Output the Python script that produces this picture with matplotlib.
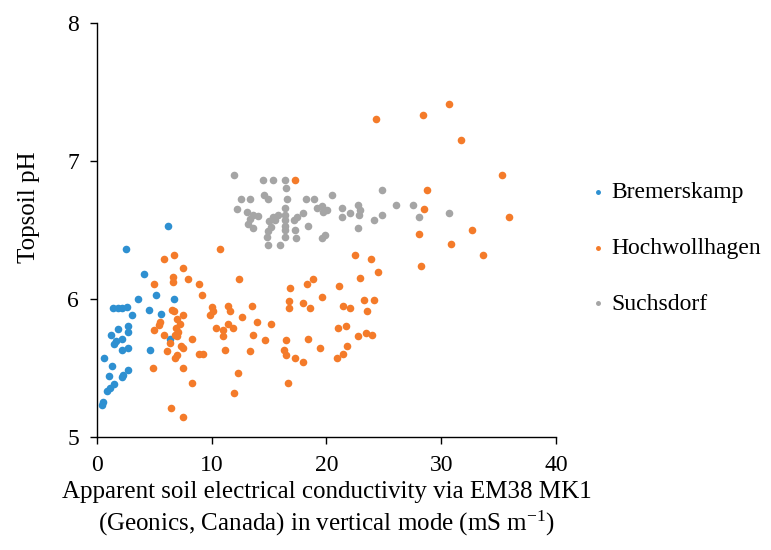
import matplotlib
matplotlib.use("Agg")
import matplotlib.pyplot as plt

# Bremerskamp
bx = [6.16, 2.53, 4.12, 5.14, 6.74, 3.60, 1.42, 1.86, 2.15, 2.59, 3.02, 4.53, 5.55,
      1.86, 2.73, 2.73, 1.22, 2.15, 1.63, 1.51, 2.73, 2.20, 0.58, 4.62, 6.39, 1.33,
      2.68, 2.29, 2.15, 1.05, 1.51, 1.11, 0.85, 0.55, 0.41]
by = [6.53, 6.36, 6.18, 6.03, 6.00, 6.00, 5.93, 5.93, 5.93, 5.94, 5.88, 5.92, 5.89,
      5.78, 5.80, 5.76, 5.74, 5.71, 5.69, 5.67, 5.64, 5.63, 5.57, 5.63, 5.71, 5.51,
      5.48, 5.45, 5.43, 5.44, 5.38, 5.35, 5.33, 5.25, 5.23]

# Hochwollhagen
hx = [10.72, 5.86, 6.74, 7.52, 4.97, 6.60, 6.60, 7.96, 8.89, 9.18, 12.40, 6.56, 6.74,
      7.52, 5.49, 5.43, 4.97, 6.95, 7.23, 6.88, 7.08, 6.80, 5.84, 7.00, 6.36, 8.25,
      7.29, 7.47, 6.13, 7.00, 6.80, 8.92, 9.21, 4.85, 7.52, 8.25, 6.42, 7.47,
      10.00, 10.08, 9.85, 11.44, 11.59, 10.37, 11.01, 11.44, 11.88, 10.95, 12.61,
      13.48, 13.97, 13.62, 11.15, 13.33, 12.31, 11.94,
      28.09, 28.24, 22.51, 23.85, 24.51, 22.92, 21.12, 16.82, 18.33, 18.80, 19.58,
      16.76, 16.76, 17.98, 18.56, 21.41, 22.05, 23.27, 24.14, 23.50, 15.16, 20.98,
      21.70, 14.64, 16.47, 18.36, 22.72, 23.44, 23.94, 16.30, 16.47, 17.25, 17.93,
      19.43, 21.81, 20.94, 21.41, 16.62,
      30.70, 28.38, 31.72, 35.27, 28.73, 28.52, 35.88, 32.71, 30.88, 33.66, 24.31,
      17.25]
hy = [6.36, 6.29, 6.32, 6.22, 6.11, 6.16, 6.12, 6.14, 6.11, 6.03, 6.14, 5.92, 5.91,
      5.88, 5.83, 5.81, 5.77, 5.85, 5.82, 5.79, 5.76, 5.74, 5.74, 5.73, 5.68, 5.71,
      5.66, 5.64, 5.62, 5.59, 5.57, 5.60, 5.60, 5.50, 5.50, 5.39, 5.21, 5.14,
      5.94, 5.91, 5.88, 5.95, 5.91, 5.79, 5.77, 5.82, 5.79, 5.73, 5.87,
      5.95, 5.83, 5.74, 5.63, 5.62, 5.46, 5.32,
      6.47, 6.24, 6.32, 6.29, 6.19, 6.15, 6.09, 6.08, 6.11, 6.14, 6.01,
      5.98, 5.93, 5.97, 5.93, 5.95, 5.93, 5.99, 5.99, 5.91, 5.82, 5.79,
      5.80, 5.70, 5.70, 5.71, 5.73, 5.75, 5.74, 5.63, 5.59, 5.57, 5.54,
      5.64, 5.66, 5.57, 5.60, 5.39,
      7.41, 7.33, 7.15, 6.90, 6.79, 6.65, 6.59, 6.50, 6.40, 6.32, 7.30,
      6.86]

# Suchsdorf
sx = [11.97, 14.49, 15.36, 16.38, 16.44, 12.55, 13.30, 14.58, 14.88, 16.53, 18.19,
      18.94, 20.51, 12.17, 13.05, 13.33, 13.62, 14.06, 13.19, 13.62, 14.99, 15.36,
      15.80, 15.51, 15.16, 14.93, 14.79, 16.38, 16.38, 16.38, 16.38, 16.38, 16.38,
      14.93, 15.95, 17.19, 17.40, 17.98, 17.25, 17.32, 18.36, 19.15, 19.58, 19.72,
      20.02, 19.87, 19.63, 21.32, 21.32, 22.05, 22.77, 22.92, 22.86, 22.77, 24.17,
      24.81, 24.81, 26.06, 27.56, 28.09, 30.70]
sy = [6.90, 6.86, 6.86, 6.86, 6.80, 6.72, 6.72, 6.75, 6.72, 6.72, 6.72,
      6.72, 6.75, 6.65, 6.63, 6.58, 6.61, 6.60, 6.54, 6.51, 6.56, 6.59,
      6.61, 6.57, 6.52, 6.49, 6.45, 6.66, 6.61, 6.57, 6.53, 6.50, 6.45,
      6.39, 6.39, 6.57, 6.59, 6.62, 6.50, 6.44, 6.53, 6.66, 6.67, 6.63,
      6.64, 6.46, 6.44, 6.66, 6.59, 6.62, 6.68, 6.64, 6.61, 6.51, 6.57,
      6.61, 6.79, 6.68, 6.68, 6.59, 6.62]

blue = '#2E90D1'
orange = '#F47B2A'
grey = '#A5A5A5'

plt.rcParams['font.family'] = ['Liberation Serif', 'DejaVu Serif']
plt.rcParams['mathtext.fontset'] = 'custom'
plt.rcParams['mathtext.rm'] = 'Liberation Serif'

fig = plt.figure(figsize=(7.71, 5.5), dpi=100)
ax = fig.add_axes([0.1258, 0.206, 0.5953, 0.7527])

ms = 30
ax.scatter(bx, by, s=ms, color=blue, label='Bremerskamp', linewidths=0, zorder=3)
ax.scatter(hx, hy, s=ms, color=orange, label='Hochwollhagen', linewidths=0, zorder=3)
ax.scatter(sx, sy, s=ms, color=grey, label='Suchsdorf', linewidths=0, zorder=2)

ax.set_xlim(0, 40)
ax.set_ylim(5, 8)
ax.set_xticks([0, 10, 20, 30, 40])
ax.set_yticks([5, 6, 7, 8])
ax.spines['top'].set_visible(False)
ax.spines['right'].set_visible(False)
for sp in ('left', 'bottom'):
    ax.spines[sp].set_color('black')
    ax.spines[sp].set_linewidth(1.0)
ax.tick_params(direction='out', length=5, width=1.0, labelsize=17, colors='black', pad=8)

ax.set_xlabel('Apparent soil electrical conductivity via EM38 MK1\n'
              '(Geonics, Canada) in vertical mode (mS m$\\mathregular{^{-1}}$)',
              fontsize=18, linespacing=1.25, labelpad=4)
ax.set_ylabel('Topsoil pH', fontsize=18)
ax.yaxis.set_label_coords(-0.125, 0.555)

ax.legend(loc='center left', bbox_to_anchor=(0.739, 0.549),
          bbox_transform=fig.transFigure, frameon=False, fontsize=17,
          markerscale=0.65, handlelength=0.6, handletextpad=0.25,
          labelspacing=1.45, borderpad=0.4)

fig.savefig('out.png', dpi=100)
